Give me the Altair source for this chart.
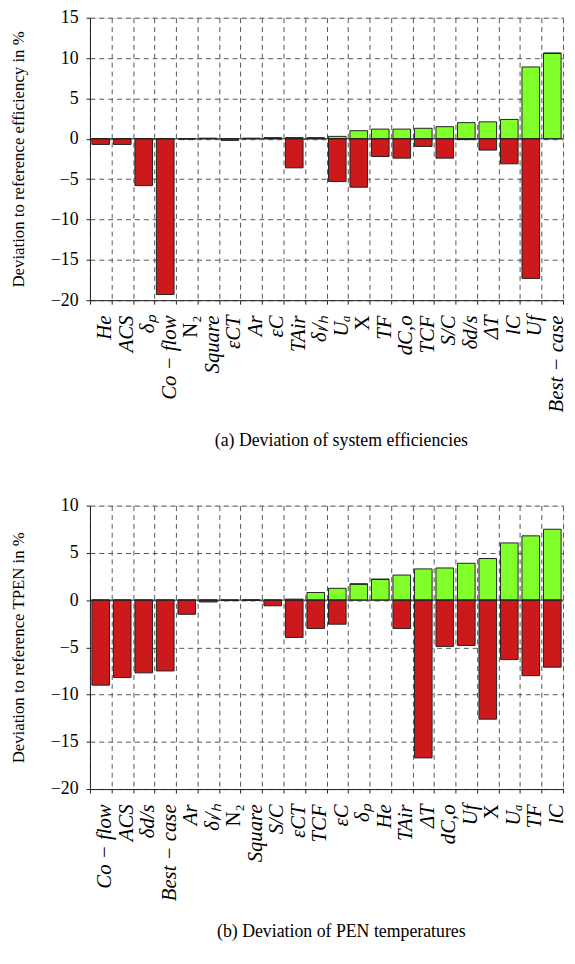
import altair as alt
import pandas as pd

# ---------------- data ----------------
cats_a = ["He", "ACS", "δₚ", "Co − flow", "N₂", "Square", "εCT", "Ar", "εC", "TAir",
          "δₗ/ₕ", "Uₐ", "X", "TF", "dC,o", "TCF", "S/C", "δd/s", "ΔT", "lC", "Uf",
          "Best − case"]
pos_a = [0, 0, 0, 0, 0, 0.05, 0, 0.05, 0.1, 0.15, 0.1, 0.3, 1.0, 1.2, 1.2, 1.3,
         1.5, 2.0, 2.1, 2.4, 8.9, 10.6]
neg_a = [-0.7, -0.7, -5.8, -19.3, 0, 0, -0.2, 0, 0, -3.6, 0, -5.3, -6.0, -2.2,
         -2.4, -0.95, -2.4, -0.1, -1.4, -3.1, -17.3, 0]

cats_b = ["Co − flow", "ACS", "δd/s", "Best − case", "Ar", "δₗ/ₕ", "N₂", "Square",
          "S/C", "εCT", "TCF", "εC", "δₚ", "He", "TAir", "ΔT", "dC,o", "Uf", "X",
          "Uₐ", "TF", "lC"]
pos_b = [0, 0, 0, 0, 0, 0, 0, 0, 0, 0.1, 0.8, 1.25, 1.7, 2.2, 2.65, 3.3, 3.4, 3.9,
         4.4, 6.05, 6.8, 7.5]
neg_b = [-9.0, -8.2, -7.7, -7.5, -1.5, -0.2, -0.05, 0, -0.6, -3.95, -3.0, -2.55,
         0, 0, -3.0, -16.7, -4.9, -4.8, -12.6, -6.3, -8.0, -7.1]

ytitle_a = "Deviation to reference efficiency in %"
ytitle_b = "Deviation to reference TPEN in %"
caption_a = "(a) Deviation of system efficiencies"
caption_b = "(b) Deviation of PEN temperatures"
yticks_a = [-20, -15, -10, -5, 0, 5, 10, 15]
yticks_b = [-20, -15, -10, -5, 0, 5, 10]

FONT = "Liberation Serif"
GREEN = "#80FF2A"
RED = "#CC1A1C"
INK = "#222222"
GRID = "#555555"

upright = {"condition": {"test": "datum.value == 'N₂' || datum.value == 'X'", "value": "normal"},
           "value": "italic"}


def panel(cats, pos, neg, ydom, yticks, ytitle, caption, w, h, cap_offset):
    n = len(cats)
    df = pd.DataFrame({"cat": cats * 2, "val": pos + neg,
                       "sign": ["pos"] * n + ["neg"] * n})
    x = alt.X("cat:N", sort=cats,
              scale=alt.Scale(paddingInner=0, paddingOuter=0),
              axis=alt.Axis(title=None, labelAngle=-90, labelAlign="right",
                            labelBaseline="middle", labelOffset=4,
                            tickBand="extent", grid=True, gridDash=[5, 4],
                            gridColor=GRID, gridOpacity=1, tickSize=4,
                            labelPadding=11, labelFont=FONT, labelFontSize=21,
                            labelFontStyle=upright, labelColor="black",
                            domainColor=INK, tickColor=INK))
    y = alt.Y("val:Q", scale=alt.Scale(domain=ydom, nice=False, zero=False),
              axis=alt.Axis(title=ytitle, values=yticks, grid=True,
                            gridDash=[5, 4], gridColor=GRID, gridOpacity=1,
                            tickSize=4, labelPadding=8, labelFont=FONT,
                            labelFontSize=18, labelColor="black",
                            titleFont=FONT, titleFontSize=17,
                            titleFontWeight="normal", titleColor="black",
                            titleX=-72, titleBaseline="middle",
                            domainColor=INK, tickColor=INK))
    bars = alt.Chart(df).mark_bar(width=alt.RelativeBandSize(0.82), stroke=INK,
                                  strokeWidth=1).encode(
        x=x, y=y,
        color=alt.Color("sign:N", scale=alt.Scale(domain=["pos", "neg"],
                                                  range=[GREEN, RED]),
                        legend=None))
    zero = alt.Chart(pd.DataFrame({"z": [0]})).mark_rule(
        color=INK, strokeWidth=1).encode(y="z:Q")
    return alt.layer(bars, zero).properties(
        width=w, height=h,
        title=alt.TitleParams(text=caption, orient="bottom", anchor="middle",
                              frame="group", font=FONT, fontSize=18,
                              fontWeight="normal", color="black",
                              offset=cap_offset, dx=15))


top = panel(cats_a, pos_a, neg_a, [-20, 15], yticks_a, ytitle_a, caption_a, 479, 286, 21)
bot = panel(cats_b, pos_b, neg_b, [-20, 10], yticks_b, ytitle_b, caption_b, 479, 287, 23)

chart = alt.vconcat(top, bot, spacing=45).properties(
    padding={"left": 1, "top": -6, "right": 0, "bottom": -6}
).configure_view(stroke=INK, strokeWidth=1).configure(background="white")

chart.save("out.html", embed_options={"renderer": "svg", "actions": False})
